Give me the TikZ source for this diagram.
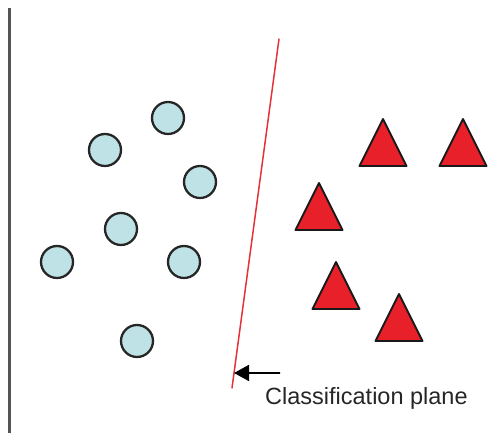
\documentclass[tikz,border=0pt]{standalone}
\usepackage{fontspec}
\setmainfont{Liberation Sans}
\usepackage{tikz}
\usetikzlibrary{calc,arrows.meta}
\definecolor{celeste}{HTML}{BFE2E6}
\definecolor{rojo}{HTML}{E8202A}
\definecolor{linea}{HTML}{E53238}
\definecolor{eje}{HTML}{555555}
\definecolor{texto}{HTML}{262626}

\begin{document}
\begin{tikzpicture}[
    x=1pt,y=1pt,>=Triangle,line cap=round,
    punto/.style={circle,draw=black!85,fill=celeste,line width=2.3pt,
                  minimum size=32pt,inner sep=0pt},
    tri/.style={draw=black!90,fill=rojo,line width=1.9pt,line join=round},
    plano/.style={linea,line width=1.5pt},
    etiq/.style={texto,font=\fontsize{23.5}{26}\selectfont,inner sep=0pt}]
  \useasboundingbox (0,0) rectangle (488,433);
  % --- eje vertical
  \draw[eje,line width=2.3pt,line cap=butt] (9.5,425) -- (9.5,0);
  % --- clase 1: circulos
  \foreach \n/\px/\py in {1/168/315,2/105/283,3/200/251,4/121/204,
                          5/57/171,6/184/171,7/137/92}
    \node[punto] (c\n) at (\px,\py) {};
  % --- clase 2: triangulos (vertice, media base)
  \foreach \n/\px/\py in {1/383/314,2/463/314,3/319/250,4/336/171,5/399/139}
    \draw[tri] (\px,\py) coordinate (t\n) -- ++(23.5,-47) -- ++(-47,0) -- cycle;
  % --- plano de clasificacion
  \coordinate (pa) at (279,394);
  \coordinate (pb) at (232,45);
  \draw[plano] (pa) -- (pb);
  \node[etiq,anchor=base west] (lab) at (265,28) {Classification plane};
  \coordinate (cola) at (280,60);
  \draw[->,black,line width=1.8pt,line cap=butt,
        arrows={-Triangle[length=15pt,width=16pt]}]
    (cola) -- ($(pa)!0.957!(pb)$);
\end{tikzpicture}
\end{document}
